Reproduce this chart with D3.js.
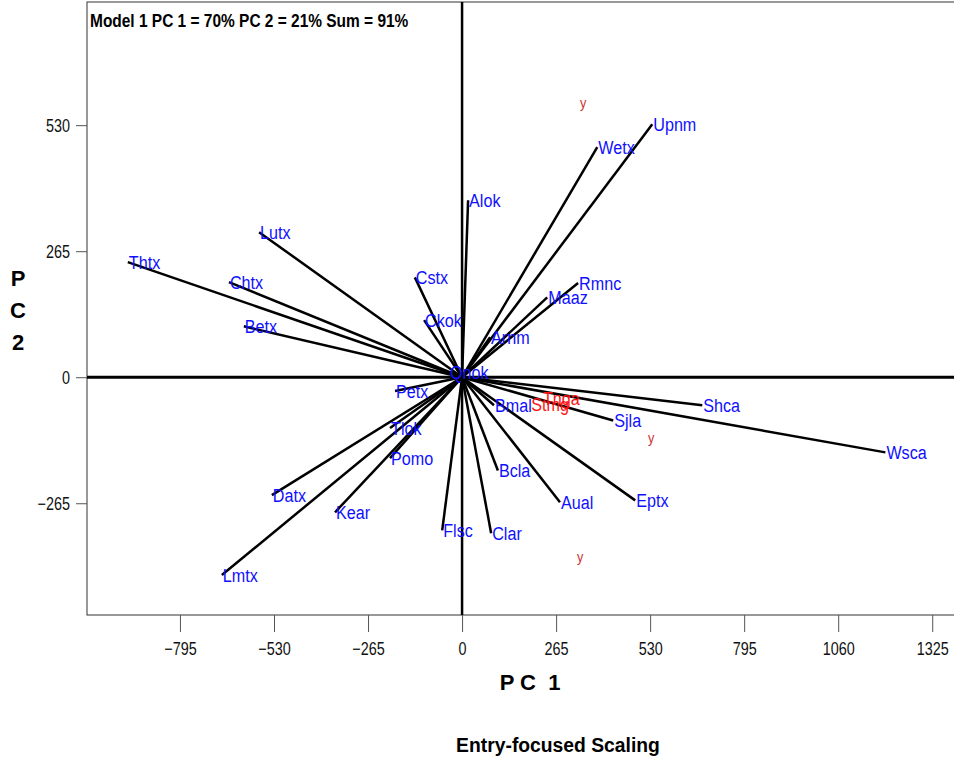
<!DOCTYPE html>
<html>
<head>
<meta charset="utf-8">
<script src="https://cdn.jsdelivr.net/npm/d3@7.9.0/dist/d3.min.js"></script>
<style>
  html, body { margin: 0; padding: 0; background: #fff; }
  svg { display: block; }
  text { font-family: "Liberation Sans", Arial, sans-serif; }
</style>
</head>
<body>
<div id="chart"></div>
<script>
// ---------- Data ----------
const varNames = ['Upnm', 'Wetx', 'Alok', 'Lutx', 'Thtx', 'Chtx', 'Betx', 'Cstx', 'Ckok', 'Arnm',
  'Maaz', 'Rmnc', 'Qnok', 'Petx', 'Tlok', 'Pomo', 'Datx', 'Kear', 'Lmtx', 'Flsc',
  'Clar', 'Bcla', 'Aual', 'Eptx', 'Bmal', 'Sjla', 'Shca', 'Wsca'];
const varPC1 = [536, 381, 17, -572, -942, -657, -615, -133, -107, 79,
  240, 327, -37, -189, -203, -203, -536, -358, -677, -56,
  82, 101, 276, 488, 90, 426, 677, 1193];
const varPC2 = [532, 484, 372, 305, 242, 200, 107, 210, 120, 84,
  168, 198, 11, -29, -107, -170, -248, -284, -416, -322,
  -328, -196, -263, -259, -59, -91, -59, -158];

// red entry labels
const entryNames = ['Stmg', 'Tnga'];
const entryPC1 = [195, 228];
const entryPC2 = [-57, -44];

// red "y" markers
const markPC1 = [341, 533, 333];
const markPC2 = [576, -128, -379];

const xTicks = [-795, -530, -265, 0, 265, 530, 795, 1060, 1325];
const yTicks = [-265, 0, 265, 530];

const title = 'Model 1 PC 1 = 70% PC 2 = 21% Sum = 91%';

// ---------- Layout ----------
const width = 954, height = 758;
const box = { left: 87, right: 956, top: 2, bottom: 615 };
const SX = 0.85; // the original uses a condensed face; squeeze text horizontally

const svg = d3.select('#chart').append('svg')
  .attr('width', width)
  .attr('height', height);

const x = d3.scaleLinear().domain([-1057, 1392]).range([box.left, box.right]);
const y = d3.scaleLinear().domain([-500, 789]).range([box.bottom, box.top]);

// place a condensed text at (px, py)
function condensed(sel, px, py, sx = SX) {
  return sel.attr('transform', (d, i) => {
    const tx = typeof px === 'function' ? px(d, i) : px;
    const ty = typeof py === 'function' ? py(d, i) : py;
    return `translate(${tx},${ty}) scale(${sx},1)`;
  });
}

// frame
svg.append('rect')
  .attr('x', box.left).attr('y', box.top)
  .attr('width', box.right - box.left).attr('height', box.bottom - box.top)
  .attr('fill', 'none').attr('stroke', '#333').attr('stroke-width', 1);

// axes
const xAxis = svg.append('g')
  .attr('transform', `translate(0,${box.bottom})`)
  .call(d3.axisBottom(x).tickValues(xTicks).tickSize(17).tickPadding(8).tickFormat(d3.format('d')));
const yAxis = svg.append('g')
  .attr('transform', `translate(${box.left},0)`)
  .call(d3.axisLeft(y).tickValues(yTicks).tickSize(11).tickPadding(4).tickFormat(d3.format('d')));

[xAxis, yAxis].forEach((g) => {
  g.select('.domain').remove();
  g.selectAll('.tick line').attr('stroke', '#555');
  g.selectAll('.tick text')
    .attr('fill', '#111')
    .style('font-size', '18px')
    .style('font-family', '"Liberation Sans", Arial, sans-serif');
});
xAxis.selectAll('.tick text').attr('transform', 'scale(0.8,1)').attr('y', 27);
yAxis.selectAll('.tick text')
  .attr('dy', '0.35em')
  .attr('x', -17 / 0.8)
  .attr('transform', 'scale(0.8,1)');

// zero lines
svg.append('line')
  .attr('x1', box.left).attr('x2', box.right)
  .attr('y1', y(0)).attr('y2', y(0))
  .attr('stroke', '#000').attr('stroke-width', 3);
svg.append('line')
  .attr('x1', x(0)).attr('x2', x(0))
  .attr('y1', box.top).attr('y2', box.bottom)
  .attr('stroke', '#000').attr('stroke-width', 2.5);

// vectors
const vars = varNames.map((name, i) => ({ name, pc1: varPC1[i], pc2: varPC2[i] }));

svg.append('g').selectAll('line')
  .data(vars)
  .join('line')
  .attr('x1', x(0)).attr('y1', y(0))
  .attr('x2', (d) => x(d.pc1)).attr('y2', (d) => y(d.pc2))
  .attr('stroke', '#000')
  .attr('stroke-width', 2.5);

svg.append('g').selectAll('text')
  .data(vars)
  .join('text')
  .call(condensed, (d) => x(d.pc1) + 1, (d) => y(d.pc2))
  .attr('dy', '0.35em')
  .attr('fill', '#1010ff')
  .style('font-size', '19px')
  .text((d) => d.name);

// entry labels (red)
const entries = entryNames.map((name, i) => ({ name, pc1: entryPC1[i], pc2: entryPC2[i] }));
svg.append('g').selectAll('text')
  .data(entries)
  .join('text')
  .call(condensed, (d) => x(d.pc1), (d) => y(d.pc2))
  .attr('dy', '0.35em')
  .attr('fill', '#ff1010')
  .style('font-size', '19px')
  .text((d) => d.name);

// "y" markers
svg.append('g').selectAll('text')
  .data(markPC1.map((v, i) => ({ pc1: v, pc2: markPC2[i] })))
  .join('text')
  .call(condensed, (d) => x(d.pc1), (d) => y(d.pc2))
  .attr('dy', '0.3em')
  .attr('text-anchor', 'middle')
  .attr('fill', '#cc3333')
  .style('font-size', '15px')
  .text('y');

// title inside frame
svg.append('text')
  .call(condensed, box.left + 3, 27, 0.86)
  .attr('fill', '#000')
  .style('font-size', '18px')
  .style('font-weight', 'bold')
  .text(title);

// axis titles
svg.append('text')
  .call(condensed, 530, 690, 1)
  .attr('text-anchor', 'middle')
  .style('font-size', '22px').style('font-weight', 'bold')
  .attr('xml:space', 'preserve')
  .text('P C  1');

svg.append('text')
  .call(condensed, 558, 752, 0.92)
  .attr('text-anchor', 'middle')
  .style('font-size', '21px').style('font-weight', 'bold')
  .text('Entry-focused Scaling');

['P', 'C', '2'].forEach((ch, i) => {
  svg.append('text')
    .attr('x', 18).attr('y', 286 + i * 32)
    .attr('text-anchor', 'middle')
    .style('font-size', '22px').style('font-weight', 'bold')
    .text(ch);
});
</script>
</body>
</html>
